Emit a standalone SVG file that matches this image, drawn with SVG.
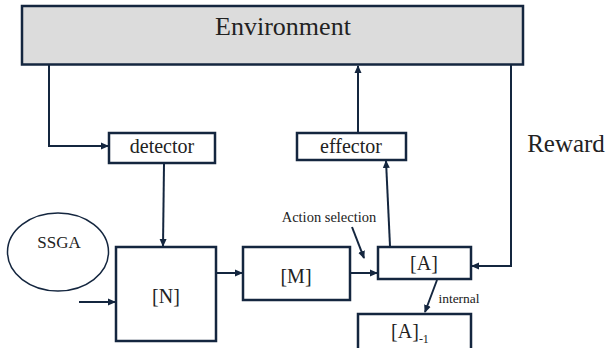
<svg xmlns="http://www.w3.org/2000/svg" width="609" height="348" viewBox="0 0 609 348">
<style>
.box{fill:#fff;stroke:#14263f;stroke-width:2.5}
.ln{fill:none;stroke:#14263f;stroke-width:2}
.t{font-family:'Liberation Serif','Times New Roman',serif;fill:#222;text-anchor:middle}
</style>
<defs>
<marker id="ah" markerWidth="8" markerHeight="8" refX="7" refY="4" orient="auto" markerUnits="userSpaceOnUse">
<path d="M0,0.5 L8,4 L0,7.5 Z" fill="#14263f"/>
</marker>
</defs>
<g id="environment">
<rect x="22" y="6" width="501" height="58.5" fill="#dcdcdc" stroke="#14263f" stroke-width="2.5"/>
<text class="t" x="283" y="35" font-size="26">Environment</text>
</g>
<g id="detector">
<rect class="box" x="109" y="133" width="106" height="30"/>
<text class="t" x="162" y="153" font-size="20">detector</text>
</g>
<g id="effector">
<rect class="box" x="297" y="133" width="109" height="27"/>
<text class="t" x="351" y="153" font-size="20">effector</text>
</g>
<g id="ssga">
<ellipse cx="58" cy="252" rx="50.5" ry="39" fill="#fff" stroke="#14263f" stroke-width="1.5"/>
<text class="t" x="59" y="248" font-size="17">SSGA</text>
</g>
<g id="N">
<rect class="box" x="116" y="247" width="100" height="94"/>
<text class="t" x="166" y="303" font-size="20">[N]</text>
</g>
<g id="M">
<rect class="box" x="243" y="247" width="107" height="53"/>
<text class="t" x="296" y="283" font-size="20">[M]</text>
</g>
<g id="A">
<rect class="box" x="378" y="247" width="93" height="32"/>
<text class="t" x="424" y="270" font-size="20">[A]</text>
</g>
<g id="A1">
<rect class="box" x="358" y="314" width="113" height="50"/>
<text class="t" x="410" y="338" font-size="20">[A]<tspan font-size="12" dy="5">-1</tspan></text>
</g>
<g id="labels">
<text class="t" x="566" y="152" font-size="25">Reward</text>
<text class="t" x="329" y="222" font-size="14.5">Action selection</text>
<text class="t" x="459" y="303" font-size="13.5">internal</text>
</g>
<g id="connectors">
<path class="ln" d="M49,65 V146 H108" marker-end="url(#ah)"/>
<path class="ln" d="M164,164 L163,246" marker-end="url(#ah)"/>
<path class="ln" d="M358,132 V66" marker-end="url(#ah)"/>
<path class="ln" d="M511,65 V266 H472" marker-end="url(#ah)"/>
<path class="ln" d="M79,302 H115" marker-end="url(#ah)"/>
<path class="ln" d="M217,273 H242" marker-end="url(#ah)"/>
<path class="ln" d="M351,273 H377" marker-end="url(#ah)"/>
<path class="ln" d="M390,246 L386,161" marker-end="url(#ah)"/>
<path class="ln" d="M352,227 L364,258" marker-end="url(#ah)"/>
<path class="ln" d="M437,280 L425,312" marker-end="url(#ah)"/>
</g>
</svg>
